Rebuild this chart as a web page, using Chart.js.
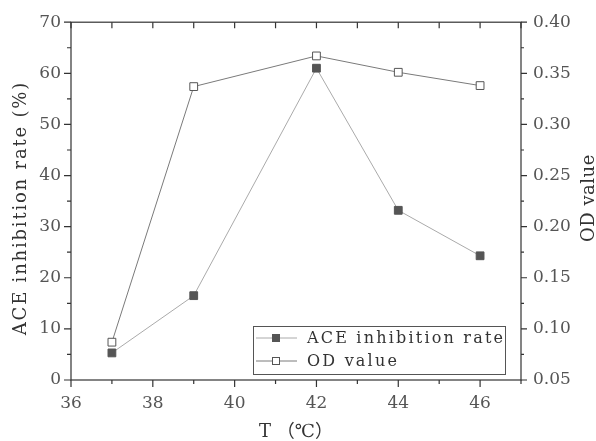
<!DOCTYPE html>
<html>
<head>
<meta charset="utf-8">
<script src="https://cdn.jsdelivr.net/npm/chart.js@4.4.1/dist/chart.umd.min.js"></script>
<style>
  html, body { margin: 0; padding: 0; background: #fff; }
  canvas { display: block; }
</style>
</head>
<body>
<canvas id="grafico" width="596" height="441"></canvas>
<script>
// Dados
const temperaturas = [37, 39, 42, 44, 46];
const inibicaoACE = [5.3, 16.5, 61.0, 33.2, 24.3];
const valorOD = [0.087, 0.337, 0.367, 0.351, 0.338];

const ticksX = [36, 38, 40, 42, 44, 46];
const ticksY = [0, 10, 20, 30, 40, 50, 60, 70];
const ticksOD = [0.05, 0.10, 0.15, 0.20, 0.25, 0.30, 0.35, 0.40];

const FONTE = "'DejaVu Serif', 'Noto Sans CJK SC', serif";
const COR_EIXO = "#333";

function pontos(ys) {
  return temperaturas.map((t, i) => ({ x: t, y: ys[i] }));
}

function textoEspacado(ctx, texto, x, y, espaco) {
  if ("letterSpacing" in ctx) ctx.letterSpacing = espaco + "px";
  ctx.fillText(texto, x, y);
  if ("letterSpacing" in ctx) ctx.letterSpacing = "0px";
}

// moldura, ticks menores, títulos verticais e legenda
const pluginMoldura = {
  id: "moldura",
  afterDraw(chart) {
    const { ctx, chartArea: a, scales } = chart;
    ctx.save();
    ctx.strokeStyle = COR_EIXO;
    ctx.lineWidth = 1.2;
    ctx.strokeRect(a.left, a.top, a.right - a.left, a.bottom - a.top);

    ctx.beginPath();
    for (let v = scales.x.min; v <= scales.x.max; v++) {
      const x = scales.x.getPixelForValue(v);
      const len = v % 2 === 0 ? 7 : 4;
      ctx.moveTo(x, a.bottom);
      ctx.lineTo(x, a.bottom + len);
      ctx.moveTo(x, a.top);
      ctx.lineTo(x, a.top + 6);
    }
    for (let v = scales.y.min; v <= scales.y.max; v += 5) {
      const y = scales.y.getPixelForValue(v);
      const len = v % 10 === 0 ? 7 : 4;
      ctx.moveTo(a.left, y);
      ctx.lineTo(a.left - len, y);
    }
    for (let k = 0; k <= 14; k++) {
      const v = scales.y1.min + k * 0.025;
      const y = scales.y1.getPixelForValue(v);
      const len = k % 2 === 0 ? 6 : 3;
      ctx.moveTo(a.right, y);
      ctx.lineTo(a.right + len, y);
    }
    ctx.stroke();

    // títulos verticais
    ctx.fillStyle = COR_EIXO;
    ctx.font = "18px " + FONTE;
    ctx.textAlign = "center";
    ctx.textBaseline = "middle";
    const meio = (a.top + a.bottom) / 2;
    ctx.save();
    ctx.translate(21, meio + 7);
    ctx.rotate(-Math.PI / 2);
    textoEspacado(ctx, "ACE inhibition rate (%)", 0, 0, 1.8);
    ctx.restore();
    ctx.save();
    ctx.translate(chart.width - 7, meio - 3);
    ctx.rotate(-Math.PI / 2);
    textoEspacado(ctx, "OD value", 0, 0, 0.5);
    ctx.restore();

    // legenda
    const lw = 252, lh = 48;
    const lx = a.right - 16 - lw;
    const ly = a.bottom - 6 - lh;
    ctx.fillStyle = "#fff";
    ctx.fillRect(lx, ly, lw, lh);
    ctx.strokeStyle = "#555";
    ctx.lineWidth = 1;
    ctx.strokeRect(lx + 0.5, ly + 0.5, lw, lh);
    chart.data.datasets.forEach((ds, i) => {
      const cy = ly + 12 + i * 23;
      ctx.strokeStyle = ds.borderColor;
      ctx.beginPath();
      ctx.moveTo(lx + 3, cy);
      ctx.lineTo(lx + 44, cy);
      ctx.stroke();
      ctx.fillStyle = ds.pointBackgroundColor;
      ctx.strokeStyle = ds.pointBorderColor;
      ctx.fillRect(lx + 19, cy - 4, 8, 8);
      ctx.strokeRect(lx + 19.5, cy - 3.5, 7, 7);
      ctx.fillStyle = COR_EIXO;
      ctx.font = "16px " + FONTE;
      ctx.textAlign = "left";
      textoEspacado(ctx, ds.label, lx + 54, cy + 1, 2.2);
    });
    ctx.restore();
  },
};

const fonteTicks = { family: FONTE, size: 17 };

new Chart(document.getElementById("grafico"), {
  type: "line",
  data: {
    datasets: [
      {
        label: "ACE inhibition rate",
        data: pontos(inibicaoACE),
        yAxisID: "y",
        borderColor: "#aaaaaa",
        borderWidth: 1,
        pointStyle: "rect",
        pointRadius: 5.5,
        pointBackgroundColor: "#555",
        pointBorderColor: "#555",
        pointBorderWidth: 1,
      },
      {
        label: "OD value",
        data: pontos(valorOD),
        yAxisID: "y1",
        borderColor: "#7a7a7a",
        borderWidth: 1,
        pointStyle: "rect",
        pointRadius: 5.5,
        pointBackgroundColor: "#fff",
        pointBorderColor: "#555",
        pointBorderWidth: 1,
      },
    ],
  },
  options: {
    responsive: false,
    animation: false,
    devicePixelRatio: 1,
    layout: { padding: { top: 17, left: 0, right: 0, bottom: 0 } },
    plugins: { legend: { display: false }, tooltip: { enabled: false } },
    scales: {
      x: {
        type: "linear",
        min: 36,
        max: 47,
        grid: { display: false, drawTicks: false },
        border: { display: false },
        afterBuildTicks: (s) => { s.ticks = ticksX.map((v) => ({ value: v })); },
        afterFit: (s) => { s.height = 61; },
        ticks: { font: fonteTicks, color: "#555", padding: 13, maxRotation: 0, autoSkip: false },
        title: {
          display: true,
          text: "T （℃）",
          color: COR_EIXO,
          font: { family: FONTE, size: 18, lineHeight: 1 },
          padding: { top: 0, bottom: 0 },
        },
      },
      y: {
        type: "linear",
        position: "left",
        min: 0,
        max: 70,
        grid: { display: false, drawTicks: false },
        border: { display: false },
        afterBuildTicks: (s) => { s.ticks = ticksY.map((v) => ({ value: v })); },
        afterFit: (s) => { s.width = 71; },
        ticks: { font: fonteTicks, color: "#555", padding: 10 },
      },
      y1: {
        type: "linear",
        position: "right",
        min: 0.05,
        max: 0.40,
        grid: { display: false, drawTicks: false },
        border: { display: false },
        afterBuildTicks: (s) => { s.ticks = ticksOD.map((v) => ({ value: v })); },
        afterFit: (s) => { s.width = 75; },
        ticks: { font: fonteTicks, color: "#555", padding: 12, callback: (v) => Number(v).toFixed(2) },
      },
    },
  },
  plugins: [pluginMoldura],
});
</script>
</body>
</html>
